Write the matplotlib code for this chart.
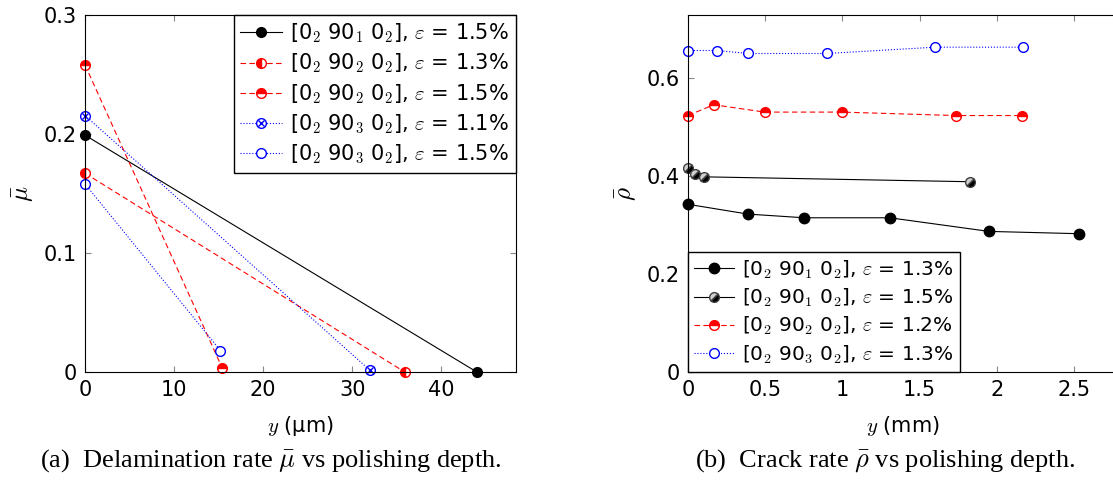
import matplotlib
matplotlib.use("Agg")
import matplotlib.pyplot as plt
from matplotlib.markers import MarkerStyle
from matplotlib.transforms import Affine2D
from matplotlib.legend_handler import HandlerTuple

# --- (a) delamination rate vs polishing depth (um) ---
a_black_x = [0, 44]
a_black_y = [0.199, 0.0]
a_red13_x = [0, 35.9]
a_red13_y = [0.167, 0.0]
a_red15_x = [0, 15.4]
a_red15_y = [0.258, 0.0035]
a_blue11_x = [0, 32.0]
a_blue11_y = [0.2155, 0.0014]
a_blue15_x = [0, 15.2]
a_blue15_y = [0.158, 0.018]

# --- (b) crack rate vs polishing depth (mm) ---
b_black13_x = [0, 0.388, 0.753, 1.306, 1.949, 2.533]
b_black13_y = [0.342, 0.322, 0.3145, 0.3145, 0.2867, 0.282]
b_black15_x = [0, 0.048, 0.101, 1.824]
b_black15_y = [0.416, 0.404, 0.398, 0.388]
b_red12_x = [0, 0.167, 0.496, 0.996, 1.733, 2.165]
b_red12_y = [0.523, 0.545, 0.530, 0.530, 0.523, 0.523]
b_blue13_x = [0, 0.187, 0.392, 0.899, 1.601, 2.170]
b_blue13_y = [0.6556, 0.6556, 0.6495, 0.6495, 0.6624, 0.6624]

plt.rcParams["font.family"] = ["DejaVu Sans"]
plt.rcParams["mathtext.fontset"] = "cm"

FS = 15
MS = 7
LW = 0.8


def lab(n, eps):
    return (r"[0$_{\mathsf{2}}$ 90$_{\mathsf{%d}}$ 0$_{\mathsf{2}}$], "
            r"$\varepsilon$ = %s%%" % (n, eps))


def style_axes(ax):
    ax.tick_params(direction="in", top=True, right=True, labelsize=FS,
                   color="#888888", length=4, pad=6)
    for s in ax.spines.values():
        s.set_linewidth(0.8)


fig = plt.figure(figsize=(11.13, 4.95), dpi=100)
ax1 = fig.add_axes([0.0764, 0.2485, 0.3872, 0.7212])
ax2 = fig.add_axes([0.6181, 0.2485, 0.3872, 0.7212])

# panel (a)
h1, = ax1.plot(a_black_x, a_black_y, "-", color="black", lw=LW,
               marker="o", ms=MS, mfc="black", mec="black", clip_on=False)
h2, = ax1.plot(a_red13_x, a_red13_y, "--", color="red", lw=LW, dashes=(5, 3),
               marker="o", ms=MS, fillstyle="left", mfc="red", mfcalt="white",
               mec="red", clip_on=False)
h3, = ax1.plot(a_red15_x, a_red15_y, "--", color="red", lw=LW, dashes=(5, 3),
               marker="o", ms=MS, fillstyle="top", mfc="red", mfcalt="white",
               mec="red", clip_on=False)
h4, = ax1.plot(a_blue11_x, a_blue11_y, ":", color="blue", lw=LW,
               marker="o", ms=MS, mfc="white", mec="blue", clip_on=False)
h4x, = ax1.plot(a_blue11_x, a_blue11_y, ls="none", color="blue",
                marker="x", ms=MS * 0.55, mew=1.0, clip_on=False)
h5, = ax1.plot(a_blue15_x, a_blue15_y, ":", color="blue", lw=LW,
               marker="o", ms=MS, mfc="white", mec="blue", clip_on=False)
ax1.set_xlim(0, 48.4)
ax1.set_ylim(0, 0.3)
ax1.set_xticks([0, 10, 20, 30, 40])
ax1.set_yticks([0, 0.1, 0.2, 0.3])
ax1.set_yticklabels(["0", "0.1", "0.2", "0.3"])
ax1.set_xlabel(r"$y$ (µm)", fontsize=FS, labelpad=10)
ax1.set_ylabel(r"$\bar{\mu}$", fontsize=FS + 3, labelpad=6)
ax1.legend([h1, h2, h3, (h4, h4x), h5],
           [lab(1, "1.5"), lab(2, "1.3"), lab(2, "1.5"), lab(3, "1.1"), lab(3, "1.5")],
           handler_map={tuple: HandlerTuple(ndivide=1, pad=0)},
           loc="upper right", fontsize=FS, frameon=True, fancybox=False,
           edgecolor="black", framealpha=1, borderaxespad=0, handlelength=2.0,
           labelspacing=0.32, borderpad=0.32, handletextpad=0.4)
style_axes(ax1)

# panel (b)
diag = MarkerStyle("o", fillstyle="bottom", transform=Affine2D().rotate_deg(45))
g1, = ax2.plot(b_black13_x, b_black13_y, "-", color="black", lw=LW,
               marker="o", ms=MS + 0.5, mfc="black", mec="black", clip_on=False)
g2, = ax2.plot(b_black15_x, b_black15_y, "-", color="black", lw=LW,
               marker=diag, ms=MS, mfc="black", mfcalt="#d0d0d0",
               mec="#404040", clip_on=False)
g3, = ax2.plot(b_red12_x, b_red12_y, "--", color="red", lw=LW, dashes=(5, 3),
               marker="o", ms=MS, fillstyle="top", mfc="red", mfcalt="white",
               mec="red", clip_on=False)
g4, = ax2.plot(b_blue13_x, b_blue13_y, ":", color="blue", lw=LW,
               marker="o", ms=MS, mfc="white", mec="blue", clip_on=False)
ax2.set_xlim(0, 2.79)
ax2.set_ylim(0, 0.728)
ax2.set_xticks([0, 0.5, 1, 1.5, 2, 2.5])
ax2.set_xticklabels(["0", "0.5", "1", "1.5", "2", "2.5"])
ax2.set_yticks([0, 0.2, 0.4, 0.6])
ax2.set_yticklabels(["0", "0.2", "0.4", "0.6"])
ax2.set_xlabel(r"$y$ (mm)", fontsize=FS, labelpad=10)
ax2.set_ylabel(r"$\bar{\rho}$", fontsize=FS + 3, labelpad=6)
ax2.legend([g1, g2, g3, g4],
           [lab(1, "1.3"), lab(1, "1.5"), lab(2, "1.2"), lab(3, "1.3")],
           loc="lower left", fontsize=FS - 0.5, frameon=True, fancybox=False,
           edgecolor="black", framealpha=1, borderaxespad=0, handlelength=2.0,
           labelspacing=0.3, borderpad=0.3, handletextpad=0.4)
style_axes(ax2)

fig.text(0.243, 0.07, r"(a)  Delamination rate $\bar{\mu}$ vs polishing depth.",
         ha="center", va="center", fontsize=19, family="Liberation Serif")
fig.text(0.795, 0.07, r"(b)  Crack rate $\bar{\rho}$ vs polishing depth.",
         ha="center", va="center", fontsize=19, family="Liberation Serif")

fig.savefig("out.png", dpi=100)
